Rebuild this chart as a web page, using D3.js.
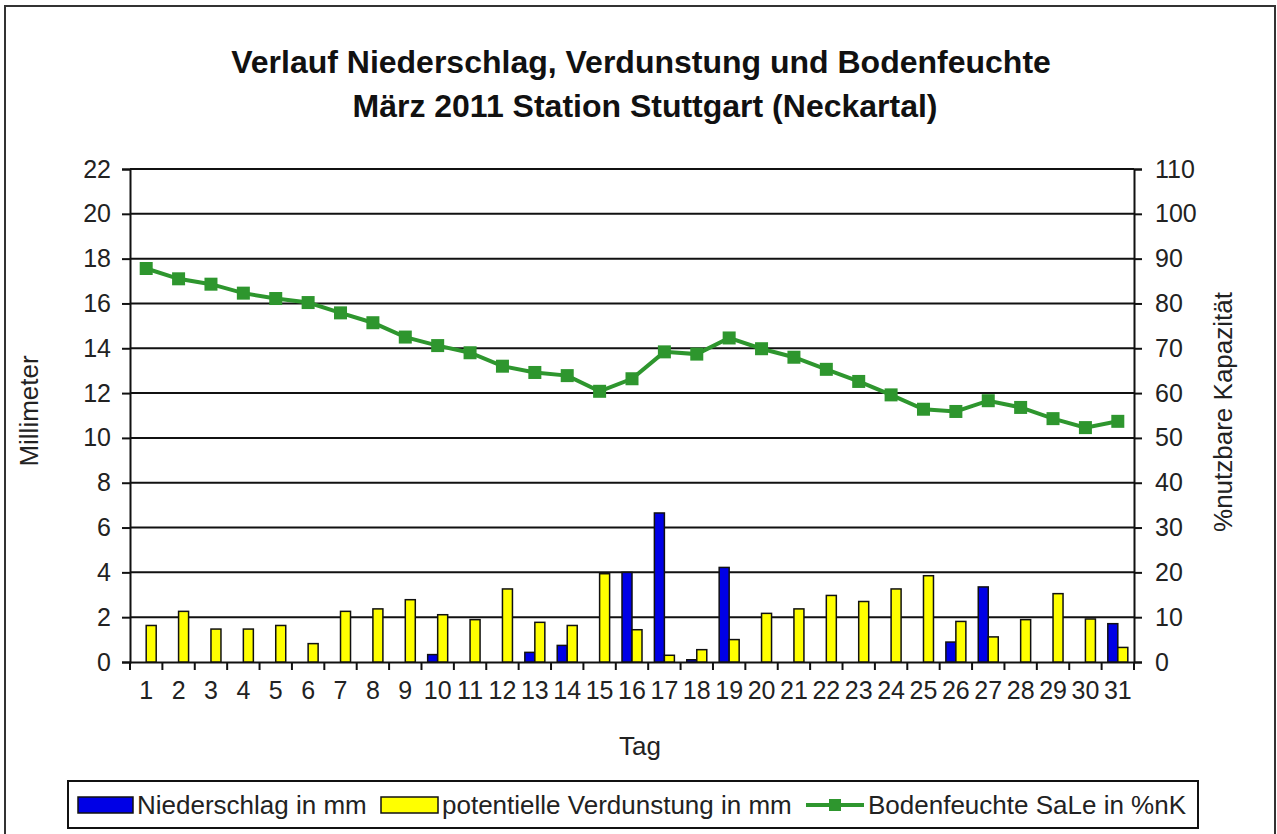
<!DOCTYPE html>
<html>
<head>
<meta charset="utf-8">
<script src="https://cdn.jsdelivr.net/npm/d3@7"></script>
<style>
  body { margin: 0; background: #fff; }
  svg { font-family: "Liberation Sans", Arial, sans-serif; }
</style>
</head>
<body>
<svg id="chart" width="1277" height="834"></svg>
<script>
// Tage im März 2011
const days = d3.range(1, 32).map(String);
// Niederschlag in mm
const niederschlag = [0, 0, 0, 0, 0, 0, 0, 0, 0, 0.33, 0, 0, 0.43, 0.74, 0, 4.0, 6.65, 0.1, 4.22, 0, 0, 0, 0, 0, 0, 0.89, 3.35, 0, 0, 0, 1.71];
// potentielle Verdunstung in mm
const verdunstung = [1.63, 2.26, 1.47, 1.47, 1.63, 0.82, 2.26, 2.37, 2.78, 2.11, 1.89, 3.26, 1.77, 1.63, 3.94, 1.44, 0.3, 0.55, 1.0, 2.17, 2.37, 2.97, 2.7, 3.26, 3.85, 1.81, 1.12, 1.89, 3.05, 1.92, 0.65];
// Bodenfeuchte in %nK
const bodenfeuchte = [87.8, 85.5, 84.3, 82.3, 81.1, 80.2, 77.9, 75.7, 72.5, 70.6, 69.0, 66.0, 64.6, 63.9, 60.4, 63.2, 69.2, 68.7, 72.3, 69.9, 68.0, 65.3, 62.6, 59.6, 56.4, 55.9, 58.3, 56.8, 54.3, 52.3, 53.7];
const mmTicks = d3.range(0, 23, 2);
const pctTicks = d3.range(0, 111, 10);

const svg = d3.select("#chart");
const pLeft = 130, pRight = 1134, pTop = 169, pBottom = 662;

// Rahmen
svg.append("rect").attr("x", 5).attr("y", 6).attr("width", 1270).attr("height", 840)
  .attr("fill", "none").attr("stroke", "#333").attr("stroke-width", 2);

// Titel
svg.append("text").attr("x", 641).attr("y", 73).attr("text-anchor", "middle")
  .attr("font-size", 32).attr("font-weight", "bold").attr("fill", "#111")
  .text("Verlauf Niederschlag, Verdunstung und Bodenfeuchte");
svg.append("text").attr("x", 645).attr("y", 117).attr("text-anchor", "middle")
  .attr("font-size", 32).attr("font-weight", "bold").attr("fill", "#111")
  .text("März 2011 Station Stuttgart (Neckartal)");

const x = d3.scaleBand().domain(days).range([pLeft, pRight]);
const y = d3.scaleLinear().domain([0, 22]).range([pBottom, pTop]);
const y2 = d3.scaleLinear().domain([0, 110]).range([pBottom, pTop]);
const xs = d3.scaleBand().domain(["n", "v"])
  .range([x.bandwidth() / 2 - 10, x.bandwidth() / 2 + 10]);

// Gitterlinien
svg.append("g").selectAll("line").data(mmTicks.filter(d => d > 0)).join("line")
  .attr("x1", pLeft).attr("x2", pRight)
  .attr("y1", d => y(d)).attr("y2", d => y(d))
  .attr("stroke", "#111").attr("stroke-width", 2);

// Achsen
const axL = svg.append("g").attr("transform", `translate(${pLeft},0)`)
  .call(d3.axisLeft(y).tickValues(mmTicks).tickSize(8).tickPadding(11));
const axR = svg.append("g").attr("transform", `translate(${pRight},0)`)
  .call(d3.axisRight(y2).tickValues(pctTicks).tickSize(8).tickPadding(13));
const axB = svg.append("g").attr("transform", `translate(0,${pBottom})`)
  .call(d3.axisBottom(x).tickSize(0).tickPadding(19));
[axL, axR, axB].forEach(g => {
  g.select(".domain").attr("stroke", "#111").attr("stroke-width", 2);
  g.selectAll(".tick line").attr("stroke", "#111").attr("stroke-width", 2);
  g.selectAll("text").attr("font-size", 25).attr("fill", "#222")
    .attr("font-family", "Liberation Sans, Arial, sans-serif");
});
// Striche zwischen den Tagen
svg.append("g").selectAll("line").data(days.concat(["end"])).join("line")
  .attr("x1", (d, i) => pLeft + i * x.step()).attr("x2", (d, i) => pLeft + i * x.step())
  .attr("y1", pBottom).attr("y2", pBottom + 8)
  .attr("stroke", "#111").attr("stroke-width", 2);

// Balken
const bars = svg.append("g");
bars.selectAll("rect.n").data(niederschlag).join("rect").attr("class", "n")
  .attr("x", (d, i) => x(days[i]) + xs("n")).attr("width", xs.bandwidth())
  .attr("y", d => y(d)).attr("height", d => y(0) - y(d))
  .attr("fill", "#0000e6").attr("stroke", "#111").attr("stroke-width", d => d > 0 ? 1.5 : 0);
bars.selectAll("rect.v").data(verdunstung).join("rect").attr("class", "v")
  .attr("x", (d, i) => x(days[i]) + xs("v")).attr("width", xs.bandwidth())
  .attr("y", d => y(d)).attr("height", d => y(0) - y(d))
  .attr("fill", "#ffff00").attr("stroke", "#111").attr("stroke-width", 1.5);

// Bodenfeuchte-Linie
const green = "#2e962e";
const line = d3.line().x((d, i) => x(days[i]) + x.bandwidth() / 2).y(d => y2(d));
svg.append("path").datum(bodenfeuchte).attr("d", line)
  .attr("fill", "none").attr("stroke", green).attr("stroke-width", 4);
svg.append("g").selectAll("rect").data(bodenfeuchte).join("rect")
  .attr("x", (d, i) => x(days[i]) + x.bandwidth() / 2 - 6.5)
  .attr("y", d => y2(d) - 6.5).attr("width", 13).attr("height", 13).attr("fill", green);

// Achsentitel
svg.append("text").attr("transform", "translate(38,411) rotate(-90)").attr("text-anchor", "middle")
  .attr("font-size", 26).attr("fill", "#222").text("Millimeter");
svg.append("text").attr("transform", "translate(1232,412) rotate(-90)").attr("text-anchor", "middle")
  .attr("font-size", 26).attr("fill", "#222").text("%nutzbare Kapazität");
svg.append("text").attr("x", 640).attr("y", 755).attr("text-anchor", "middle")
  .attr("font-size", 26).attr("fill", "#222").text("Tag");

// Legende
const lg = svg.append("g");
lg.append("rect").attr("x", 68).attr("y", 781).attr("width", 1130).attr("height", 47)
  .attr("fill", "#fff").attr("stroke", "#111").attr("stroke-width", 2);
lg.append("rect").attr("x", 78).attr("y", 797).attr("width", 55).attr("height", 16)
  .attr("fill", "#0000e6").attr("stroke", "#111").attr("stroke-width", 1.5);
lg.append("text").attr("x", 137).attr("y", 814).attr("font-size", 26).attr("fill", "#222")
  .text("Niederschlag in mm");
lg.append("rect").attr("x", 381).attr("y", 797).attr("width", 57).attr("height", 16)
  .attr("fill", "#ffff00").attr("stroke", "#111").attr("stroke-width", 1.5);
lg.append("text").attr("x", 442).attr("y", 814).attr("font-size", 26).attr("fill", "#222")
  .text("potentielle Verdunstung in mm");
lg.append("line").attr("x1", 806).attr("x2", 864).attr("y1", 805).attr("y2", 805)
  .attr("stroke", green).attr("stroke-width", 4);
lg.append("rect").attr("x", 829).attr("y", 799).attr("width", 12).attr("height", 12).attr("fill", green);
lg.append("text").attr("x", 868).attr("y", 814).attr("font-size", 26).attr("fill", "#222")
  .text("Bodenfeuchte SaLe in %nK");
</script>
</body>
</html>
